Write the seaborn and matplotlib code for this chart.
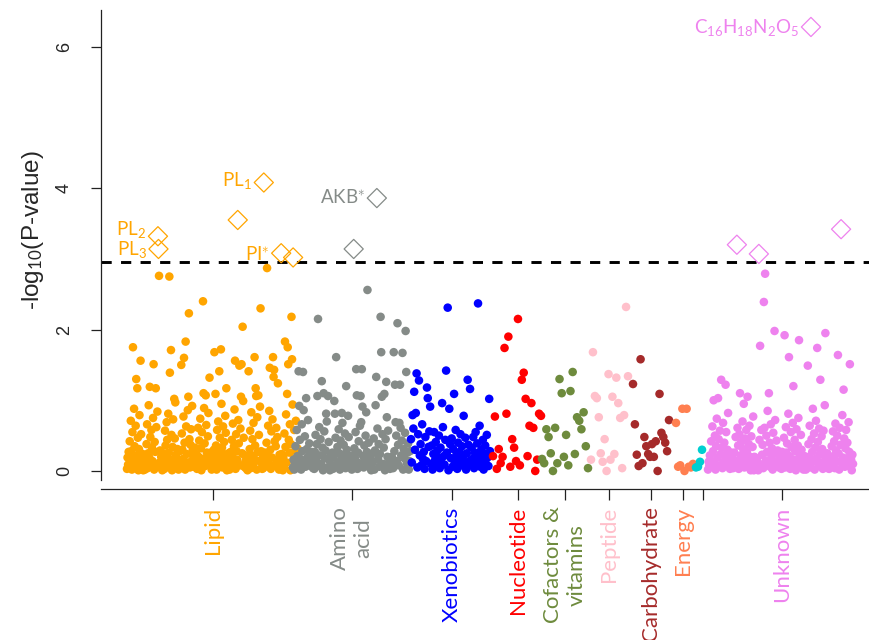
import numpy as np
import pandas as pd
import matplotlib
matplotlib.use("Agg")
import matplotlib.pyplot as plt
import seaborn as sns

# ---------------------------------------------------------------- data
categories = ["Lipid", "Amino acid", "Xenobiotics", "Nucleotide",
              "Cofactors & vitamins", "Peptide", "Carbohydrate", "Energy",
              "Other", "Unknown"]
tick_labels = ["Lipid", "Amino\nacid", "Xenobiotics", "Nucleotide",
               "Cofactors &\nvitamins", "Peptide", "Carbohydrate", "Energy",
               "", "Unknown"]

# -log10(P) of every metabolite, in plotting order within each class
lipid = [
    0.03, 0.19, 0.09, 0.27, 0.05, 0.42, 0.18, 0.71, 0.28, 0.02, 0.55, 1.75, 0.13, 0.88, 0.35, 0.08, 0.64, 1.30, 0.22, 1.17, 0.47, 0.01, 0.31, 0.79, 0.15, 1.56, 0.52, 0.06, 0.14, 0.24, 0.01,
    0.08, 0.22, 0.02, 0.16, 0.11, 0.38, 0.66, 0.04, 0.25, 0.93, 0.19, 1.19, 0.48, 0.07, 0.58, 0.33, 0.14, 0.75, 1.51, 0.02, 0.41, 0.27, 1.17, 0.62, 0.09, 0.84, 2.76, 0.12, 0.29, 0.05, 0.20,
    0.13, 0.01, 0.25, 0.07, 0.21, 0.03, 0.57, 0.36, 0.12, 0.69, 0.44, 0.06, 0.81, 0.26, 2.75, 1.39, 0.16, 1.71, 0.51, 0.01, 0.34, 0.73, 0.10, 1.02, 0.46, 0.97, 0.23, 0.18, 0.04, 0.31, 0.10,
    0.02, 0.15, 0.28, 0.09, 0.08, 1.50, 0.53, 0.30, 0.17, 0.77, 1.60, 0.40, 0.02, 1.83, 0.63, 0.24, 0.12, 0.86, 1.05, 2.23, 0.45, 0.05, 0.37, 0.59, 0.14, 0.92, 0.29, 0.21, 0.06, 0.11, 0.33,
    0.17, 0.07, 0.23, 0.03, 0.04, 0.61, 0.20, 0.43, 0.10, 0.74, 0.32, 0.01, 0.55, 0.17, 2.40, 1.10, 0.89, 0.39, 0.07, 1.07, 0.65, 0.26, 0.13, 0.49, 0.82, 0.22, 1.32, 0.09, 0.26, 0.14, 0.02,
    0.05, 0.20, 0.12, 0.30, 1.68, 0.15, 1.09, 0.36, 0.02, 0.58, 0.27, 0.70, 0.09, 1.41, 0.47, 0.19, 1.72, 0.95, 0.33, 0.05, 0.63, 0.24, 0.41, 0.11, 0.78, 0.54, 1.17, 0.01, 0.16, 0.08, 0.25,
    0.10, 0.02, 0.18, 0.27, 0.06, 0.44, 0.21, 0.67, 0.13, 0.35, 0.87, 1.56, 0.03, 0.52, 0.28, 0.16, 0.72, 0.39, 1.49, 0.08, 0.60, 1.05, 1.51, 0.25, 2.04, 0.99, 0.47, 0.06, 0.22, 0.13, 0.04,
    0.21, 0.08, 0.01, 0.15, 1.41, 0.12, 0.31, 0.57, 0.04, 0.83, 0.22, 0.45, 0.09, 0.68, 0.18, 1.61, 0.36, 1.17, 1.06, 0.02, 0.76, 0.27, 1.07, 0.51, 0.14, 0.91, 2.30, 0.28, 0.11, 0.03, 0.19,
    0.04, 0.16, 0.26, 0.10, 0.07, 0.40, 2.87, 0.23, 0.64, 0.11, 0.85, 1.46, 0.30, 0.03, 0.56, 0.19, 0.73, 1.61, 1.33, 1.43, 0.42, 0.09, 0.35, 0.61, 0.15, 0.48, 1.24, 0.13, 0.02, 0.23, 0.07,
    0.14, 0.24, 0.06, 0.01, 0.20, 0.05, 0.53, 1.83, 0.34, 0.80, 0.12, 1.09, 1.75, 1.51, 0.44, 0.26, 0.66, 0.01, 0.38, 2.18, 1.58, 0.94, 0.17, 0.58, 0.08, 0.29, 0.71, 0.19, 0.09, 0.32, 0.12,
]
amino_acid = [
    0.05, 0.16, 0.02, 0.12, 0.35, 0.04, 0.58, 0.21, 0.09, 1.41, 0.92, 0.44, 0.17, 0.02, 0.66, 0.28, 1.40, 0.86, 0.13, 0.49, 0.06, 1.03, 0.31, 0.19, 0.72, 0.08, 0.39, 0.24, 0.11, 0.27, 0.07,
    0.19, 0.04, 0.12, 0.03, 0.27, 0.51, 0.14, 0.38, 1.06, 2.15, 0.07, 0.62, 0.22, 0.45, 0.10, 1.27, 0.33, 0.01, 1.10, 0.56, 0.18, 0.29, 0.81, 0.70, 0.05, 1.06, 0.41, 0.15, 0.01, 0.23, 0.09,
    0.08, 0.26, 0.03, 0.20, 0.99, 0.81, 0.47, 1.61, 0.06, 0.34, 0.12, 0.59, 0.25, 0.02, 0.43, 0.16, 0.82, 0.68, 0.09, 0.37, 0.23, 0.53, 0.04, 1.20, 0.30, 0.14, 0.78, 0.48, 0.15, 0.06, 0.21,
    0.13, 0.02, 0.22, 0.08, 0.32, 0.18, 0.55, 1.44, 1.07, 0.03, 0.26, 0.42, 0.11, 0.64, 1.06, 0.69, 1.44, 0.91, 0.21, 0.05, 0.36, 0.15, 0.50, 0.83, 0.27, 2.56, 0.07, 0.40, 0.07, 0.18, 0.04,
    0.01, 0.10, 0.25, 0.13, 0.46, 0.02, 0.29, 0.93, 1.33, 0.60, 0.17, 0.38, 0.06, 0.24, 2.18, 1.68, 1.05, 0.52, 0.10, 0.33, 1.09, 0.01, 0.45, 1.26, 0.76, 0.20, 0.57, 0.09, 0.16, 0.03, 0.12,
    0.09, 0.20, 0.05, 0.04, 1.68, 0.28, 1.22, 0.69, 0.50, 0.14, 2.09, 0.37, 0.08, 0.68, 1.22, 0.61, 0.22, 0.43, 1.67, 0.02, 0.31, 0.18, 0.54, 1.98, 1.40, 0.11, 0.26, 0.39, 0.02, 0.14, 0.28,
]
xenobiotics = [
    0.45, 0.12, 0.79, 0.60, 1.12, 0.30, 0.82, 1.38, 0.05, 0.52, 1.28, 0.22, 0.38, 0.08, 0.66, 0.17, 0.27, 0.03, 0.48, 0.14, 1.18, 1.03, 0.34, 0.56, 0.91,
    0.10, 0.36, 0.02, 0.24, 0.55, 0.15, 0.41, 0.07, 0.29, 0.19, 0.50, 0.04, 0.33, 0.12, 0.96, 0.62, 0.21, 0.09, 0.44, 1.42, 0.26, 2.31, 0.01, 0.88, 0.38,
    0.18, 0.46, 0.06, 0.31, 1.09, 0.13, 0.58, 0.23, 0.03, 0.40, 0.16, 0.27, 0.52, 0.08, 0.35, 0.20, 0.78, 0.11, 0.47, 0.02, 0.25, 1.29, 0.37, 0.14, 1.16,
    0.09, 0.33, 0.17, 0.48, 0.04, 0.26, 0.55, 0.12, 0.39, 2.37, 0.21, 0.64, 0.06, 0.30, 0.15, 0.44, 0.02, 0.24, 0.36, 0.10, 0.51, 0.19, 0.07, 1.02, 0.28,
]
nucleotide = [0.21, 0.77, 0.03, 0.31, 0.11, 0.20, 1.74, 0.81, 1.90, 0.06, 0.45, 0.33, 0.14,
              2.15, 0.08, 1.29, 1.39, 1.02, 0.21, 0.64, 0.96, 0.61, 0.00, 0.16, 0.81, 0.78]
cofactors = [0.17, 0.11, 0.59, 0.48, 0.25, 0.00, 0.61, 0.11, 1.30, 1.10, 0.20,
             0.51, 0.08, 1.13, 1.40, 0.24, 0.76, 0.71, 0.59, 0.83, 0.35, 0.04]
peptide = [0.16, 1.68, 1.06, 1.03, 0.76, 0.25, 0.13, 0.45, 0.00, 1.37,
           0.16, 1.05, 0.24, 1.32, 0.96, 0.75, 0.04, 0.79, 2.32, 1.34]
carbohydrate = [1.23, 0.66, 0.23, 0.07, 1.58, 0.11, 0.48, 0.35, 0.24, 0.20,
                0.38, 0.20, 0.42, 0.00, 1.09, 0.54, 0.48, 0.40, 0.28, 0.72]
energy = [0.68, 0.06, 0.08, 0.88, 0.00, 0.88, 0.06, 0.05, 0.10]
other = [0.05, 0.06, 0.13, 0.30]
unknown = [
    0.02, 0.13, 0.07, 0.22, 0.15, 0.42, 0.06, 0.63, 0.28, 1.00, 0.11, 0.50, 0.02, 0.35, 0.74, 0.19, 1.03, 0.45, 0.08, 0.57, 0.24, 1.29, 0.33, 0.04, 0.68, 0.13, 0.40, 0.21, 1.22, 0.55, 0.09, 0.30, 0.82, 0.17, 0.10, 0.03, 0.18, 0.26,
    0.11, 0.24, 0.04, 0.16, 0.26, 0.07, 0.48, 0.14, 0.61, 0.36, 0.03, 0.52, 1.10, 0.22, 0.41, 0.12, 0.70, 0.31, 0.95, 0.05, 0.46, 0.18, 0.58, 0.27, 1.05, 0.10, 0.38, 0.64, 0.20, 0.01, 0.49, 0.16, 0.34, 0.77, 0.01, 0.20, 0.08, 0.14,
    0.06, 0.18, 0.12, 0.01, 0.44, 1.77, 0.09, 0.58, 0.23, 0.37, 0.04, 2.39, 0.61, 2.79, 0.15, 0.50, 0.27, 0.85, 0.11, 1.10, 0.40, 0.06, 0.66, 0.19, 0.32, 0.02, 0.54, 0.25, 1.98, 0.72, 0.13, 0.43, 0.08, 0.29, 0.23, 0.05, 0.15, 0.09,
    0.14, 0.03, 0.27, 0.09, 0.18, 0.47, 1.92, 0.05, 0.62, 0.26, 0.39, 0.12, 0.81, 1.61, 0.21, 0.03, 0.55, 0.34, 0.09, 0.68, 1.20, 0.16, 0.44, 0.28, 0.01, 0.59, 0.14, 0.36, 0.75, 1.85, 0.23, 0.07, 0.51, 0.30, 0.06, 0.19, 0.02, 0.12,
    0.21, 0.08, 0.02, 0.15, 0.11, 1.49, 0.38, 0.20, 0.64, 0.05, 0.45, 0.27, 0.88, 0.14, 0.53, 0.02, 0.33, 0.71, 0.18, 1.74, 0.41, 0.08, 0.60, 0.24, 1.29, 0.12, 0.49, 0.31, 0.03, 0.57, 0.22, 0.93, 1.95, 0.16, 0.11, 0.25, 0.04, 0.17,
    0.03, 0.12, 0.19, 0.07, 0.35, 0.09, 0.56, 0.21, 0.42, 0.04, 0.67, 0.29, 0.14, 0.50, 1.64, 0.25, 0.02, 0.61, 0.37, 0.11, 0.79, 0.19, 1.15, 0.46, 0.06, 0.32, 0.58, 0.17, 0.40, 0.08, 0.69, 0.27, 1.51, 0.13, 0.16, 0.01, 0.23, 0.10,
]
values = [lipid, amino_acid, xenobiotics, nucleotide, cofactors, peptide,
          carbohydrate, energy, other, unknown]

# significant metabolites: class, position within class, -log10(P), name
hit_category = ["Lipid"] * 6 + ["Amino acid"] * 2 + ["Unknown"] * 4
hit_index = [57, 58, 204, 252, 284, 306, 97, 134, 46, 81, 164, 212]
hit_value = [3.32, 3.14, 3.55, 4.08, 3.08, 3.02, 3.14, 3.86, 3.20, 3.07, 6.28, 3.42]
hit_label = ["PL$_2$", "PL$_3$", "", "PL$_1$", "PI$^{\\ast}$", "", "", "AKB$^{\\ast}$",
             "", "", "C$_{16}$H$_{18}$N$_2$O$_5$", ""]
threshold = 2.96

# ---------------------------------------------------------------- style
palette = ["#FFA500", "#858B88", "#0000FF", "#FF0000", "#6E8B3D",
           "#FFC0CB", "#A52A2A", "#FF7F50", "#00CED1", "#EE82EE"]
color_of = dict(zip(categories, palette))

# horizontal extent of each class on the x axis
bands = [(26, 197), (192, 309), (310, 389), (392, 440), (441, 487),
         (490, 527), (532, 568), (575, 592), (595, 601), (607, 752)]
tick_pos = [112, 251, 351, 417, 464, 508, 550, 582, 602, 681]
# vertical nudge (points) of each name relative to its marker
label_dy = [0.7, -4.3, 0, -2.2, -5.0, 0, 0, -3.6, 0, 0, -4.3, 0]

sns.set_style("ticks")
plt.rcParams["font.family"] = ["Lato", "DejaVu Sans"]
plt.rcParams["mathtext.fontset"] = "custom"
plt.rcParams["mathtext.rm"] = "Lato"
plt.rcParams["mathtext.it"] = "Lato:italic"
plt.rcParams["mathtext.bf"] = "Lato:bold"

# ---------------------------------------------------------------- layout
rows = []
hit_x = []
for cat, vals, (x0, x1) in zip(categories, values, bands):
    idx = [i for c, i in zip(hit_category, hit_index) if c == cat]
    n = len(vals) + len(idx)
    xs = np.linspace(x0, x1, n)
    keep = np.ones(n, bool)
    keep[idx] = False
    for x, y in zip(xs[keep], vals):
        rows.append((cat, x, y))
    hit_x.extend(xs[idx])
df = pd.DataFrame(rows, columns=["category", "x", "y"])

# ---------------------------------------------------------------- figure
fig = plt.figure(figsize=(8.7, 6.4), dpi=100)
ax = fig.add_axes([101 / 870, 151 / 640, 769 / 870, 479 / 640])

sns.scatterplot(data=df, x="x", y="y", hue="category", hue_order=categories,
                palette=palette, s=38, linewidth=0, legend=False, ax=ax,
                zorder=3)

ax.axhline(threshold, color="black", lw=2.1, ls=(0, (3.5, 3.2)), zorder=2)

for cat, x, y, lab, dy in zip(hit_category, hit_x, hit_value, hit_label, label_dy):
    c = color_of[cat]
    ax.scatter([x], [y], marker="D", s=95, facecolors="none", edgecolors=c,
               linewidths=0.9, zorder=4)
    if lab:
        ax.annotate(lab, (x, y), xytext=(-8.6, dy), textcoords="offset points",
                    ha="right", va="baseline", color=c, fontsize=13.5,
                    family="Lato")

ax.set_xlim(0, 769)
ax.set_ylim(-0.255, 6.52)

ax.set_xticks(tick_pos)
ax.set_xticklabels(tick_labels, rotation=90, ha="center", va="top",
                   fontsize=16, family="Lato")
for lbl, c in zip(ax.get_xticklabels(), palette):
    lbl.set_color(c)
    lbl.set_multialignment("center")
ax.tick_params(axis="x", length=8, width=0.9, pad=4.5, color="#222222")

ax.set_yticks([0, 2, 4, 6])
ax.set_yticklabels(["0", "2", "4", "6"], rotation=90, va="center",
                   fontsize=13, family="Liberation Sans")
ax.tick_params(axis="y", length=7.2, width=0.9, pad=13, color="#222222")

ax.set_xlabel("")
ax.set_ylabel("")
fig.text(33 / 870, 1 - 230 / 640, "-log$_{10}$(P-value)", rotation=90,
         ha="center", va="center", fontsize=17.5, family="Liberation Sans")

for side in ("top", "right"):
    ax.spines[side].set_visible(False)
ax.spines["left"].set_bounds(-0.13, 6.52)
for side in ("left", "bottom"):
    ax.spines[side].set_linewidth(0.9)
    ax.spines[side].set_color("#222222")

fig.savefig("out.png", dpi=100)
